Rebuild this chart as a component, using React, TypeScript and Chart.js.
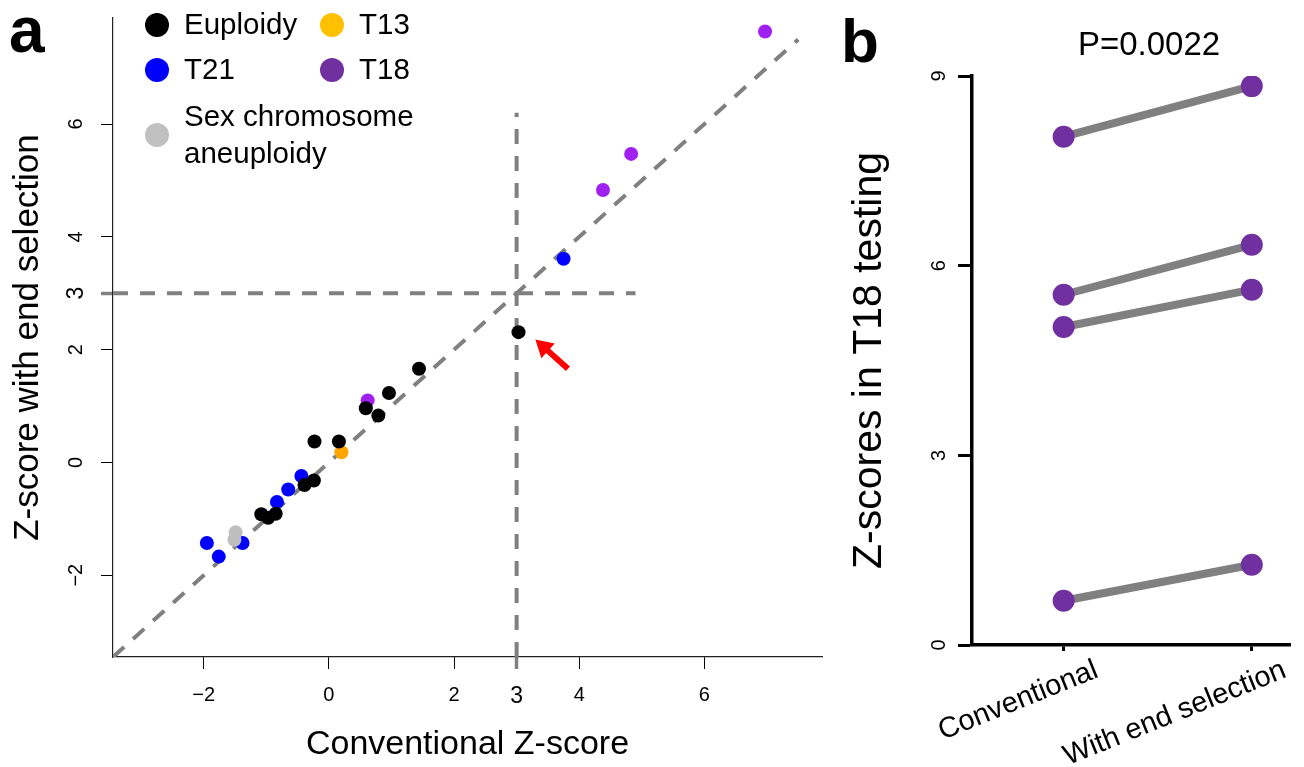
import React, { useEffect, useRef } from "react";
import { Chart, registerables } from "chart.js";

Chart.register(...registerables);

const FONT = "'Liberation Sans', Arial, Helvetica, sans-serif";

// ---------- Panel a : scatter ----------
const euploidyX = [-1.08, -0.97, -0.85, -0.39, -0.24, -0.23, 0.16, 0.59, 0.79, 0.96, 1.44, 3.03];
const euploidyY = [-0.92, -0.98, -0.91, -0.4, -0.32, 0.37, 0.37, 0.96, 0.83, 1.23, 1.66, 2.31];
const t21X = [-1.95, -1.76, -1.38, -0.83, -0.65, -0.44, 3.75];
const t21Y = [-1.43, -1.67, -1.43, -0.7, -0.48, -0.24, 3.61];
const t13X = [0.2];
const t13Y = [0.18];
const t18X = [0.62, 4.38, 4.83, 6.97];
const t18Y = [1.1, 4.83, 5.47, 7.64];
const sexX = [-1.49, -1.51];
const sexY = [-1.24, -1.37];

const legendLabels = ["Euploidy", "T13", "T21", "T18", "Sex chromosome\naneuploidy"];
const legendColors = ["#000000", "#FFC000", "#0000FF", "#7030A0", "#C0C0C0"];
const pointColors = { euploidy: "#000000", t21: "#0000FF", t13: "#FFA500", t18: "#A020F0", sex: "#BEBEBE" };

const axisMinA = -3.45;
const axisMaxA = 7.88;
const tickValuesA = [-2, 0, 2, 3, 4, 6];
const threshold = 3;
const diagEnd = 7.5;
const hLineEnd = 4.9;
const vLineEnd = 6.2;
const arrowTail = { x: 3.82, y: 1.66 };
const arrowTip = { x: 3.3, y: 2.18 };

// ---------- Panel b : paired ----------
const categoriesB = ["Conventional", "With end selection"];
const conventionalZ = [8.04, 5.54, 5.03, 0.7];
const endSelectionZ = [8.84, 6.33, 5.62, 1.27];
const tickValuesB = [0, 3, 6, 9];
const xMinB = -0.487;
const xMaxB = 1.203;
const pValueLabel = "P=0.0022";

const pts = (xs: number[], ys: number[]) => xs.map((x, i) => ({ x, y: ys[i] }));
const fmt = (v: number) => (v < 0 ? "\u2212" + Math.abs(v) : String(v));

const panelAPlugin = {
  id: "panelA",
  afterDatasetsDraw(chart: any) {
    const ctx = chart.ctx;
    const xs = chart.scales.x;
    const ys = chart.scales.y;
    const tx = xs.getPixelForValue(arrowTip.x);
    const ty = ys.getPixelForValue(arrowTip.y);
    const sx = xs.getPixelForValue(arrowTail.x);
    const sy = ys.getPixelForValue(arrowTail.y);
    const ang = Math.atan2(ty - sy, tx - sx);
    const headLen = 17;
    const headHalf = 10;
    const shaft = 6;
    const bx = tx - headLen * Math.cos(ang);
    const by = ty - headLen * Math.sin(ang);
    const nx = -Math.sin(ang);
    const ny = Math.cos(ang);
    ctx.save();
    ctx.fillStyle = "#FF0000";
    ctx.beginPath();
    ctx.moveTo(sx + (nx * shaft) / 2, sy + (ny * shaft) / 2);
    ctx.lineTo(bx + (nx * shaft) / 2, by + (ny * shaft) / 2);
    ctx.lineTo(bx + nx * headHalf, by + ny * headHalf);
    ctx.lineTo(tx, ty);
    ctx.lineTo(bx - nx * headHalf, by - ny * headHalf);
    ctx.lineTo(bx - (nx * shaft) / 2, by - (ny * shaft) / 2);
    ctx.lineTo(sx - (nx * shaft) / 2, sy - (ny * shaft) / 2);
    ctx.closePath();
    ctx.fill();
    ctx.restore();
  },
  afterDraw(chart: any) {
    const ctx = chart.ctx;
    ctx.save();
    ctx.fillStyle = "#000";
    ctx.font = `bold 64px ${FONT}`;
    ctx.textAlign = "left";
    ctx.textBaseline = "alphabetic";
    ctx.fillText("a", 9, 52);
    const pos = [
      { cx: 157, cy: 25 },
      { cx: 332, cy: 25 },
      { cx: 157, cy: 70 },
      { cx: 332, cy: 70 },
      { cx: 157, cy: 135 },
    ];
    ctx.font = `29.5px ${FONT}`;
    ctx.textBaseline = "middle";
    legendLabels.forEach((lab, i) => {
      const p = pos[i];
      ctx.fillStyle = legendColors[i];
      ctx.beginPath();
      ctx.arc(p.cx, p.cy, 12, 0, Math.PI * 2);
      ctx.fill();
      ctx.fillStyle = "#000";
      const lines = lab.split("\n");
      const lh = 37;
      lines.forEach((ln, j) => {
        ctx.fillText(ln, p.cx + 27, p.cy + 1 + (j - (lines.length - 1) / 2) * lh);
      });
    });
    ctx.restore();
  },
};

const panelBPlugin = {
  id: "panelB",
  afterDraw(chart: any) {
    const ctx = chart.ctx;
    ctx.save();
    ctx.fillStyle = "#000";
    ctx.font = `bold 62px ${FONT}`;
    ctx.textAlign = "left";
    ctx.textBaseline = "alphabetic";
    ctx.fillText("b", 1, 62);
    ctx.font = `33px ${FONT}`;
    ctx.textAlign = "center";
    ctx.textBaseline = "middle";
    ctx.fillText(pValueLabel, 309, 46);
    ctx.restore();
  },
};

function PanelA() {
  const ref = useRef<HTMLCanvasElement>(null);
  useEffect(() => {
    const dash = (data: any[]) => ({
      type: "line" as const,
      data,
      borderColor: "#808080",
      borderWidth: 4,
      borderDash: [15, 12],
      pointRadius: 0,
      fill: false,
      order: 10,
    });
    const tickFont = (c: any) => ({ family: FONT, size: c.tick && c.tick.value === threshold ? 23 : 20 });
    const tickColor = (c: any) => (c.tick && c.tick.value === threshold ? "#808080" : "#000");
    const tickWidth = (c: any) => (c.tick && c.tick.value === threshold ? 3.5 : 1);
    const chart = new Chart(ref.current!, {
      type: "scatter",
      data: {
        datasets: [
          { label: "Euploidy", data: pts(euploidyX, euploidyY), backgroundColor: pointColors.euploidy, pointRadius: 7, borderWidth: 0, order: 1 },
          { label: "Sex chromosome aneuploidy", data: pts(sexX, sexY), backgroundColor: pointColors.sex, pointRadius: 7, borderWidth: 0, order: 2 },
          { label: "T21", data: pts(t21X, t21Y), backgroundColor: pointColors.t21, pointRadius: 7, borderWidth: 0, order: 3 },
          { label: "T13", data: pts(t13X, t13Y), backgroundColor: pointColors.t13, pointRadius: 7, borderWidth: 0, order: 4 },
          { label: "T18", data: pts(t18X, t18Y), backgroundColor: pointColors.t18, pointRadius: 7, borderWidth: 0, order: 5 },
          dash([{ x: axisMinA, y: axisMinA }, { x: diagEnd, y: diagEnd }]) as any,
          dash([{ x: axisMinA, y: threshold }, { x: hLineEnd, y: threshold }]) as any,
          dash([{ x: threshold, y: axisMinA }, { x: threshold, y: vLineEnd }]) as any,
        ],
      },
      options: {
        responsive: false,
        animation: false,
        events: [],
        layout: { padding: { top: 18, right: 18, left: 0, bottom: 0 } },
        plugins: { legend: { display: false }, tooltip: { enabled: false } },
        scales: {
          x: {
            type: "linear",
            min: axisMinA,
            max: axisMaxA,
            afterBuildTicks: (s: any) => {
              s.ticks = tickValuesA.map((v) => ({ value: v }));
            },
            afterFit: (s: any) => {
              s.height = 110;
              s.paddingLeft = 0;
              s.paddingRight = 0;
            },
            grid: { drawOnChartArea: false, drawTicks: true, tickLength: 12, tickColor, tickWidth },
            border: { display: true, color: "#222", width: 1.2 },
            ticks: {
              autoSkip: false,
              minRotation: 0,
              maxRotation: 0,
              padding: 14,
              color: "#000",
              font: tickFont,
              callback: (v: any) => fmt(Number(v)),
            },
            title: {
              display: true,
              text: "Conventional Z-score",
              color: "#000",
              font: { family: FONT, size: 34 },
              padding: { top: 0, bottom: 2 },
            },
          },
          y: {
            type: "linear",
            min: axisMinA,
            max: axisMaxA,
            afterBuildTicks: (s: any) => {
              s.ticks = tickValuesA.map((v) => ({ value: v }));
            },
            afterFit: (s: any) => {
              s.width = 113;
              s.paddingTop = 0;
              s.paddingBottom = 0;
            },
            grid: { drawOnChartArea: false, drawTicks: true, tickLength: 12, tickColor, tickWidth },
            border: { display: true, color: "#222", width: 1.2 },
            ticks: {
              autoSkip: false,
              minRotation: 90,
              maxRotation: 90,
              crossAlign: "center",
              padding: 13,
              color: "#000",
              font: tickFont,
              callback: (v: any) => fmt(Number(v)),
            },
            title: {
              display: true,
              text: "Z-score with end selection",
              color: "#000",
              font: { family: FONT, size: 35 },
              padding: { top: 7, bottom: 0 },
            },
          },
        },
      } as any,
      plugins: [panelAPlugin],
    });
    return () => chart.destroy();
  }, []);
  return <canvas ref={ref} width={840} height={767} style={{ position: "absolute", left: 0, top: 0 }} />;
}

function PanelB() {
  const ref = useRef<HTMLCanvasElement>(null);
  useEffect(() => {
    const datasets = conventionalZ.map((c, i) => ({
      label: "pair " + (i + 1),
      data: [
        { x: 0, y: c },
        { x: 1, y: endSelectionZ[i] },
      ],
      borderColor: "#808080",
      borderWidth: 8,
      pointRadius: 11,
      pointBackgroundColor: "#7030A0",
      pointBorderWidth: 0,
      fill: false,
    }));
    const chart = new Chart(ref.current!, {
      type: "line",
      data: { datasets },
      options: {
        responsive: false,
        animation: false,
        events: [],
        layout: { padding: { top: 76, right: 14, left: 0, bottom: 0 } },
        plugins: { legend: { display: false }, tooltip: { enabled: false } },
        scales: {
          x: {
            type: "linear",
            min: xMinB,
            max: xMaxB,
            afterBuildTicks: (s: any) => {
              s.ticks = categoriesB.map((_, i) => ({ value: i }));
            },
            afterFit: (s: any) => {
              s.height = 122;
            },
            grid: { drawOnChartArea: false, drawTicks: true, tickLength: 6, tickColor: "#000", tickWidth: 3 },
            border: { display: true, color: "#000", width: 3.5 },
            ticks: {
              autoSkip: false,
              minRotation: 22,
              maxRotation: 22,
              labelOffset: 33,
              padding: 2,
              color: "#000",
              font: { family: FONT, size: 29 },
              callback: (v: any) => categoriesB[Number(v)],
            },
          },
          y: {
            type: "linear",
            min: 0,
            max: 9,
            afterBuildTicks: (s: any) => {
              s.ticks = tickValuesB.map((v) => ({ value: v }));
            },
            afterFit: (s: any) => {
              s.width = 132;
            },
            grid: { drawOnChartArea: false, drawTicks: true, tickLength: 14, tickColor: "#000", tickWidth: 3 },
            border: { display: true, color: "#000", width: 3.5 },
            ticks: {
              autoSkip: false,
              minRotation: 90,
              maxRotation: 90,
              crossAlign: "center",
              padding: 13,
              color: "#000",
              font: { family: FONT, size: 20 },
            },
            title: {
              display: true,
              text: "Z-scores in T18 testing",
              color: "#000",
              font: { family: FONT, size: 41 },
              padding: { top: 5, bottom: 0 },
            },
          },
        },
      } as any,
      plugins: [panelBPlugin],
    });
    return () => chart.destroy();
  }, []);
  return <canvas ref={ref} width={464} height={767} style={{ position: "absolute", left: 840, top: 0 }} />;
}

export default function App() {
  return (
    <div style={{ position: "fixed", left: 0, top: 0, width: 1304, height: 767, background: "#fff" }}>
      <PanelA />
      <PanelB />
    </div>
  );
}
